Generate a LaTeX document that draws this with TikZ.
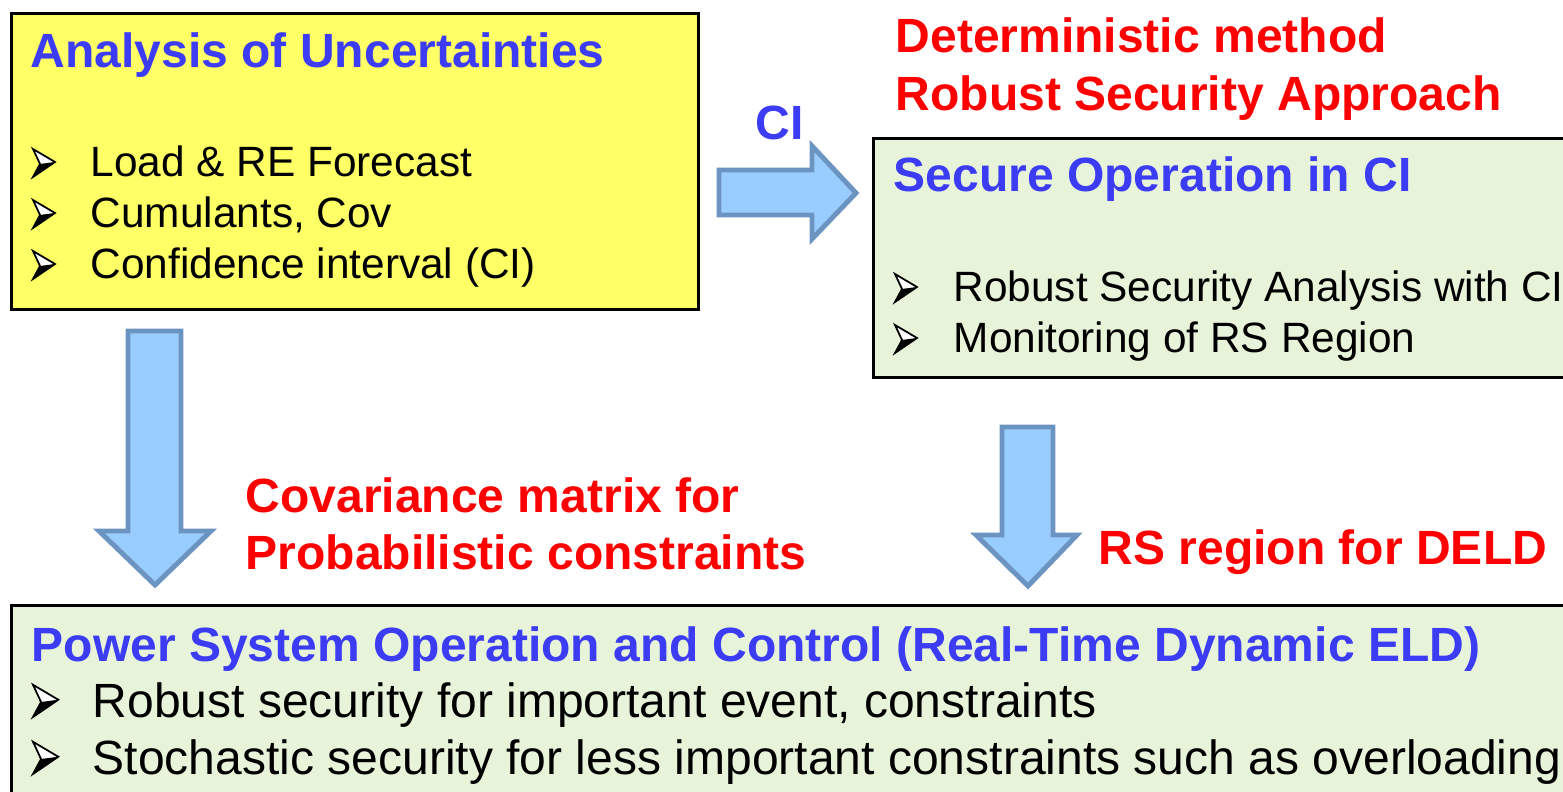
\documentclass[tikz,border=0pt]{standalone}
\usepackage{fontspec}
\setmainfont{Liberation Sans}

\definecolor{headblue}{RGB}{60,60,245}
\definecolor{notered}{RGB}{255,0,0}
\definecolor{uncyellow}{RGB}{255,255,102}
\definecolor{opgreen}{RGB}{232,244,218}
\definecolor{arrowfill}{RGB}{153,204,255}
\definecolor{arrowedge}{RGB}{108,148,192}

\tikzset{
  box/.style={draw=black, line width=0.8pt, anchor=north west, inner sep=0pt},
  boxhead/.style={anchor=base west, inner sep=0pt, text=headblue,
    font=\fontsize{13.66pt}{16pt}\selectfont\bfseries},
  boxitem/.style={anchor=base west, inner sep=0pt,
    font=\fontsize{12.05pt}{14pt}\selectfont},
  bigitem/.style={anchor=base west, inner sep=0pt,
    font=\fontsize{13.66pt}{16pt}\selectfont},
  note/.style={anchor=base west, inner sep=0pt, text=notered,
    font=\fontsize{13.66pt}{16pt}\selectfont\bfseries},
  blockarrow/.style={fill=arrowfill, draw=arrowedge, line width=1.4pt, line join=miter},
  arrowbullet/.pic={
    \fill[white] (0,-28) -- (22,-15) -- (7,-13) -- cycle;
    \fill[black] (7,-13) -- (22,-15) -- (0,0) -- cycle;
    \draw[line width=0.5pt, line join=miter] (0,-28) -- (22,-15) -- (0,0) -- (7,-13) -- cycle;
  }
}

\begin{document}
\begin{tikzpicture}[x=0.01cm,y=-0.01cm]
    \useasboundingbox (0,0) rectangle (1563,792);
    \clip (0,0) rectangle (1563,792);

    % boxes
    \node[box, fill=uncyellow, minimum width=6.87cm, minimum height=2.96cm] (unc) at (10,12) {};
    \node[box, fill=opgreen, minimum width=7.5cm, minimum height=2.39cm] (sec) at (872,137) {};
    \node[box, fill=opgreen, minimum width=16cm, minimum height=2.5cm] (pso) at (10,604) {};

    % analysis of uncertainties
    \node[boxhead] (unchead) at (30,68) {Analysis of Uncertainties};
    \foreach \t [count=\i] in {Load \& RE Forecast, {Cumulants, Cov}, Confidence interval (CI)}{
      \pic at (33,126+51*\i) {arrowbullet};
      \node[boxitem] (uitem\i) at (90,126+51*\i) {\t};
    }

    % secure operation
    \node[boxhead] (sechead) at (893,192) {Secure Operation in CI};
    \foreach \t [count=\i] in {Robust Security Analysis with CI, Monitoring of RS Region}{
      \pic at (895,251+51*\i) {arrowbullet};
      \node[boxitem] (sitem\i) at (953,251+51*\i) {\t};
    }

    % power system operation
    \node[boxhead] (psohead) at (31,662) {Power System Operation and Control (Real-Time Dynamic ELD)};
    \foreach \t [count=\i] in {{Robust security for important event, constraints},
                               Stochastic security for less important constraints such as overloading}{
      \pic[scale=1.15] at (33,660+57*\i) {arrowbullet};
      \node[bigitem] (pitem\i) at (92,661+57*\i) {\t};
    }

    % block arrows
    \draw[blockarrow] (719,170) -- (812,170) -- (812,146) -- (856,193)
        -- (812,239) -- (812,215) -- (719,215) -- cycle;
    \draw[blockarrow] (128,331) -- (181,331) -- (181,531) -- (211,531) -- (155,585)
        -- (99,531) -- (128,531) -- cycle;
    \draw[blockarrow] (1002,427) -- (1053,427) -- (1053,535) -- (1077,535) -- (1028,586)
        -- (976,535) -- (1002,535) -- cycle;

    % labels
    \node[boxhead] (cilab) at (755,140) {CI};
    \node[note] (det1) at (895,53) {Deterministic method};
    \node[note] (det2) at (895,111) {Robust Security Approach};
    \node[note] (cov1) at (245,513) {Covariance matrix for};
    \node[note] (cov2) at (245,570) {Probabilistic constraints};
    \node[note] (rslab) at (1098,565) {RS region for DELD};

\end{tikzpicture}
\end{document}
